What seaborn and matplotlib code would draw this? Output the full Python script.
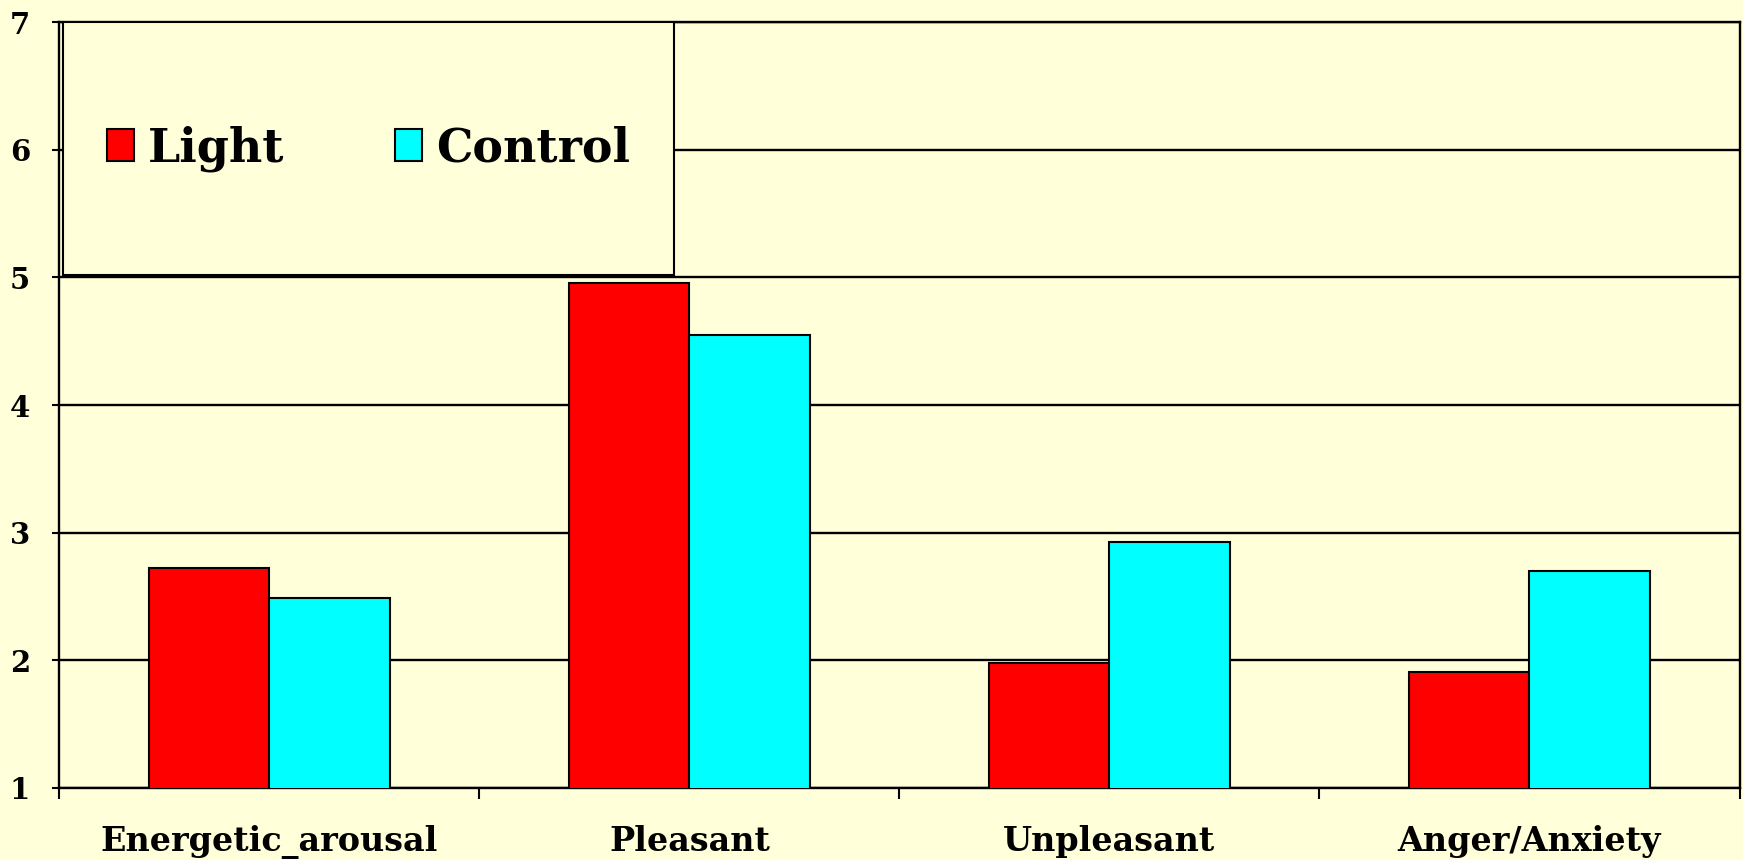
import numpy as np
import pandas as pd
import matplotlib
matplotlib.use("Agg")
import matplotlib.pyplot as plt
from matplotlib.patches import Rectangle
import seaborn as sns

# data
categories = ["Energetic_arousal", "Pleasant", "Unpleasant", "Anger/Anxiety"]
light = [2.72, 4.96, 1.98, 1.91]
control = [2.49, 4.55, 2.93, 2.70]
groups = ["Light", "Control"]
yticks = [1, 2, 3, 4, 5, 6, 7]

bg = "#FFFFD9"

df = pd.DataFrame({
    "category": categories * 2,
    "value": light + control,
    "group": [groups[0]] * len(categories) + [groups[1]] * len(categories),
})

sns.set_style("white")
plt.rcParams["font.family"] = ["DejaVu Serif"]
plt.rcParams["font.weight"] = "bold"
plt.rcParams["text.color"] = "black"
plt.rcParams["xtick.color"] = "black"
plt.rcParams["ytick.color"] = "black"

fig = plt.figure(figsize=(17.43, 8.6), dpi=100, facecolor=bg)
ax = fig.add_axes([0.034, 0.084, 0.964, 0.89])
ax.set_facecolor(bg)

sns.barplot(data=df, x="category", y="value", hue="group",
            palette=["#FF0000", "#00FFFF"], width=0.573,
            edgecolor="black", linewidth=1.5, saturation=1, ax=ax, zorder=3)

ax.set_ylim(1, 7)
ax.set_xlim(-0.5, 3.5)
ax.set_yticks(yticks)
ax.set_yticklabels([str(t) for t in yticks], fontsize=21, fontweight="bold")
ax.yaxis.grid(True, color="black", linewidth=1.7, zorder=0)
ax.set_axisbelow(True)

# category labels at centres, boundary ticks as minor ticks
ax.set_xticks(range(len(categories)))
ax.set_xticklabels(categories, fontsize=24, fontweight="bold")
ax.tick_params(axis="x", which="major", length=0, pad=27)
ax.set_xticks(np.arange(-0.5, len(categories), 1.0), minor=True)
ax.tick_params(axis="x", which="minor", bottom=True, length=8, width=1.5,
               color="black", direction="out")
ax.tick_params(axis="y", length=5, width=1.5, color="black", direction="out",
               pad=16, left=True)

for s in ax.spines.values():
    s.set_color("black")
    s.set_linewidth(1.7)

ax.set_xlabel("")
ax.set_ylabel("")

# legend box in the upper left corner
box = (0.002, 0.67, 0.364, 0.33)
ax.add_patch(Rectangle(box[:2], box[2], box[3], transform=ax.transAxes,
                       facecolor=bg, edgecolor="black", linewidth=1.5, zorder=5))
leg = ax.legend(ncol=2, loc="center", bbox_to_anchor=box, frameon=False,
                handlelength=0.6, handleheight=0.7, handletextpad=0.3,
                columnspacing=2.4,
                prop={"family": "DejaVu Serif", "weight": "bold", "size": 33})
leg.set_zorder(6)
for h in leg.legend_handles:
    h.set_edgecolor("black")
    h.set_linewidth(1.5)

fig.savefig("out.png", dpi=100, facecolor=bg)
